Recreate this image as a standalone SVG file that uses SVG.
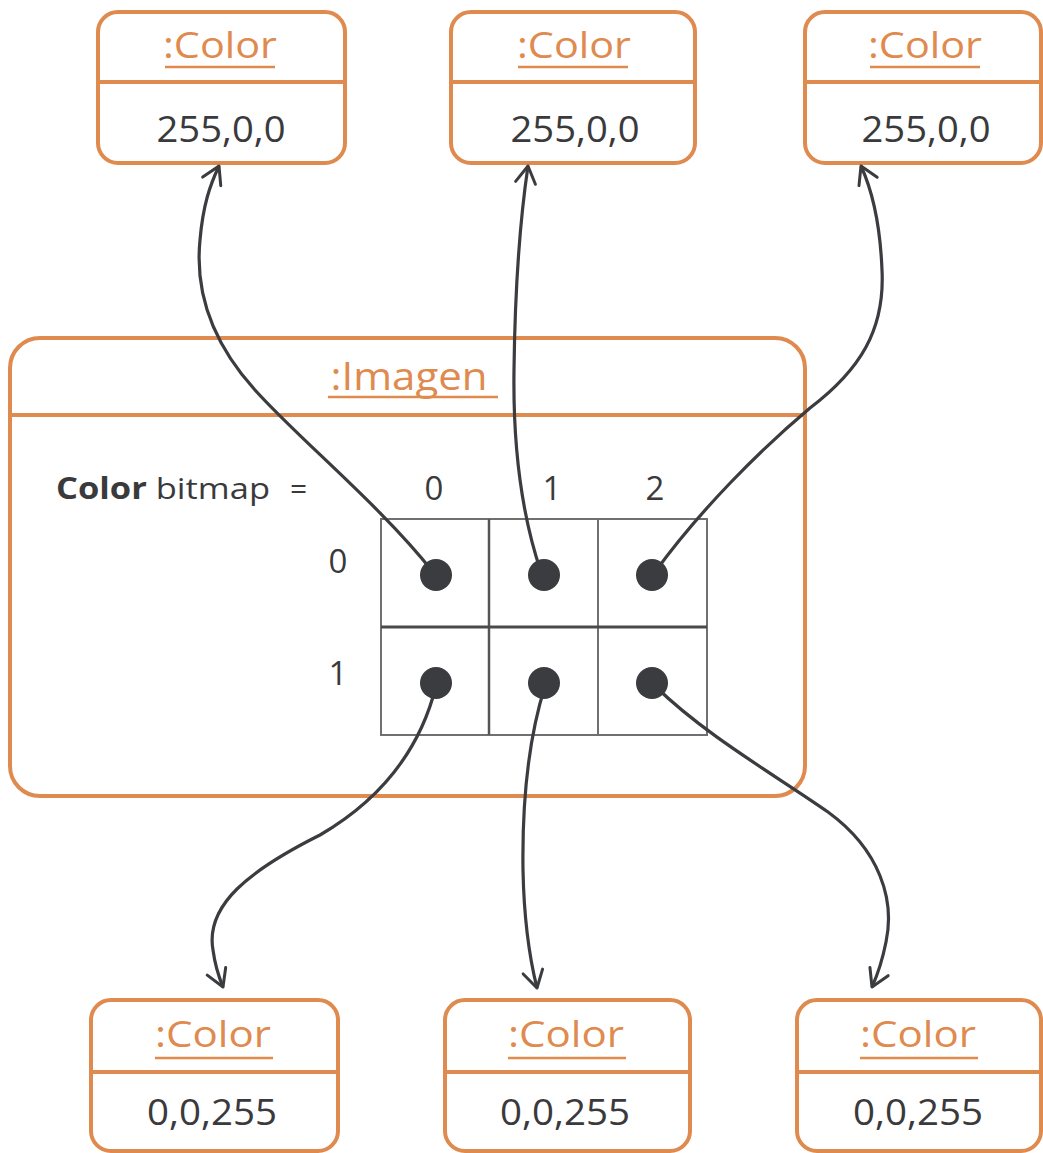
<svg xmlns="http://www.w3.org/2000/svg" width="1043" height="1153" viewBox="0 0 1043 1153">
<defs>
<style>
.box{fill:#fff;stroke:#DF8A4E;stroke-width:4}
.div{stroke:#DF8A4E;stroke-width:4}
.ul{stroke:#DF8A4E;stroke-width:2.5}
.title{font-family:"Open Sans","Liberation Sans",sans-serif;fill:#DF8A4E;text-anchor:middle}
.val{font-family:"Open Sans","Liberation Sans",sans-serif;fill:#3a3a3c;text-anchor:middle}
.lbl{font-family:"Open Sans","Liberation Sans",sans-serif;fill:#3a3a3c}
.grid{fill:none;stroke:#707070;stroke-width:2}
.dot{fill:#3b3c3f}
.conn{fill:none;stroke:#3b3c3f;stroke-width:3.2;marker-end:url(#arr)}
</style>
<marker id="arr" markerUnits="userSpaceOnUse" viewBox="-22 -14 26 28" markerWidth="26" markerHeight="28" refX="0" refY="0" orient="auto">
<path d="M-17,-10 L0,0 L-17,10" fill="none" stroke="#3b3c3f" stroke-width="3" stroke-linecap="round" stroke-linejoin="round"/>
</marker>
</defs>
<rect width="1043" height="1153" fill="#fff"/>

<g id="imagen">
<rect class="box" x="10" y="338" width="795" height="458" rx="30"/>
<line class="div" x1="10" y1="415" x2="805" y2="415"/>
<text class="title" x="409" y="390" font-size="38" textLength="157" lengthAdjust="spacingAndGlyphs">:Imagen</text>
<line class="ul" x1="328" y1="397" x2="498" y2="397"/>
<text class="lbl" x="56" y="499" font-size="30" textLength="214" lengthAdjust="spacingAndGlyphs"><tspan font-weight="bold">Color</tspan> bitmap</text>
<text class="lbl" x="290" y="499" font-size="30">=</text>
<g class="val" font-size="33">
<text x="434" y="500">0</text>
<text x="552" y="500">1</text>
<text x="655" y="500">2</text>
<text x="338" y="573">0</text>
<text x="338" y="685">1</text>
</g>
<rect class="grid" x="381" y="519" width="326" height="216"/>
<line x1="489" y1="519" x2="489" y2="735" stroke="#555" stroke-width="2.5"/>
<line x1="598" y1="519" x2="598" y2="735" stroke="#707070" stroke-width="2"/>
<line x1="381" y1="627" x2="707" y2="627" stroke="#4a4a4a" stroke-width="3"/>
<circle class="dot" cx="436" cy="575" r="16"/>
<circle class="dot" cx="544" cy="575" r="16"/>
<circle class="dot" cx="652" cy="575" r="16"/>
<circle class="dot" cx="436" cy="683" r="16"/>
<circle class="dot" cx="544" cy="683" r="16"/>
<circle class="dot" cx="652" cy="683" r="16"/>
</g>

<g id="color-top-1">
<rect class="box" x="98" y="12" width="247" height="151" rx="20"/>
<line class="div" x1="98" y1="82" x2="345" y2="82"/>
<text class="title" x="220" y="58" font-size="36" textLength="114" lengthAdjust="spacingAndGlyphs">:Color</text>
<line class="ul" x1="165" y1="67" x2="275" y2="67"/>
<text class="val" x="221" y="142" font-size="37" textLength="129" lengthAdjust="spacingAndGlyphs">255,0,0</text>
</g>
<g id="color-top-2">
<rect class="box" x="451" y="12" width="244" height="151" rx="20"/>
<line class="div" x1="451" y1="82" x2="695" y2="82"/>
<text class="title" x="574" y="58" font-size="36" textLength="114" lengthAdjust="spacingAndGlyphs">:Color</text>
<line class="ul" x1="518" y1="67" x2="628" y2="67"/>
<text class="val" x="575" y="142" font-size="37" textLength="129" lengthAdjust="spacingAndGlyphs">255,0,0</text>
</g>
<g id="color-top-3">
<rect class="box" x="805" y="12" width="236" height="151" rx="20"/>
<line class="div" x1="805" y1="82" x2="1041" y2="82"/>
<text class="title" x="925" y="58" font-size="36" textLength="114" lengthAdjust="spacingAndGlyphs">:Color</text>
<line class="ul" x1="870" y1="67" x2="980" y2="67"/>
<text class="val" x="926" y="142" font-size="37" textLength="129" lengthAdjust="spacingAndGlyphs">255,0,0</text>
</g>

<g id="color-bottom-1">
<rect class="box" x="91" y="1000" width="247" height="151" rx="20"/>
<line class="div" x1="91" y1="1072" x2="338" y2="1072"/>
<text class="title" x="213" y="1047" font-size="36" textLength="116" lengthAdjust="spacingAndGlyphs">:Color</text>
<line class="ul" x1="155" y1="1058" x2="273" y2="1058"/>
<text class="val" x="212" y="1125" font-size="37" textLength="130" lengthAdjust="spacingAndGlyphs">0,0,255</text>
</g>
<g id="color-bottom-2">
<rect class="box" x="445" y="1000" width="245" height="151" rx="20"/>
<line class="div" x1="445" y1="1072" x2="690" y2="1072"/>
<text class="title" x="566" y="1047" font-size="36" textLength="116" lengthAdjust="spacingAndGlyphs">:Color</text>
<line class="ul" x1="508" y1="1058" x2="626" y2="1058"/>
<text class="val" x="565" y="1125" font-size="37" textLength="130" lengthAdjust="spacingAndGlyphs">0,0,255</text>
</g>
<g id="color-bottom-3">
<rect class="box" x="797" y="1000" width="244" height="151" rx="20"/>
<line class="div" x1="797" y1="1072" x2="1041" y2="1072"/>
<text class="title" x="918" y="1047" font-size="36" textLength="116" lengthAdjust="spacingAndGlyphs">:Color</text>
<line class="ul" x1="860" y1="1058" x2="978" y2="1058"/>
<text class="val" x="918" y="1125" font-size="37" textLength="130" lengthAdjust="spacingAndGlyphs">0,0,255</text>
</g>

<g id="connectors">
<path class="conn" d="M433,572 C380,505 300,440 255,390 C210,340 195,290 200,240 C203,205 210,185 219,166"/>
<path class="conn" d="M541,572 C520,510 513,440 514,370 C515,290 520,220 528,166"/>
<path class="conn" d="M655,572 C700,510 760,450 810,408 C860,370 885,330 882,270 C880,220 872,190 861,166"/>
<path class="conn" d="M436,686 C420,750 380,800 320,835 C250,870 205,905 213,950 C215,965 218,975 223,987"/>
<path class="conn" d="M545,686 C528,740 522,800 523,870 C524,920 530,960 537,988"/>
<path class="conn" d="M655,686 C705,735 775,775 828,812 C880,850 895,900 886,942 C882,962 877,976 872,987"/>
</g>
</svg>
